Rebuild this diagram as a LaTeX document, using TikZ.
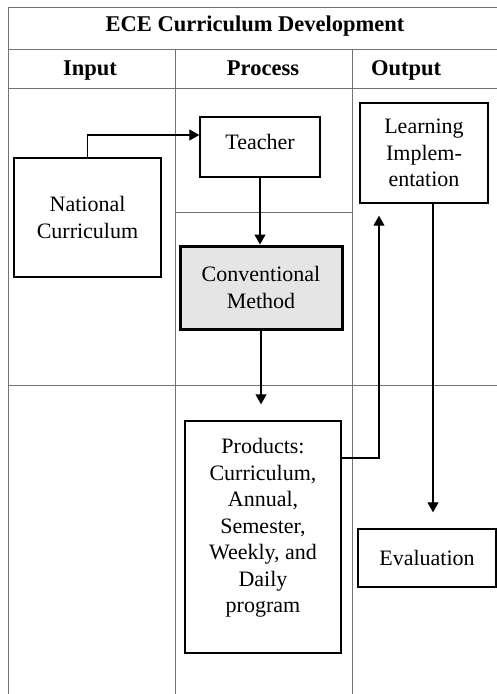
\documentclass[tikz,border=0pt]{standalone}
\usepackage{fontspec}
\setmainfont{Liberation Serif}
\usetikzlibrary{arrows.meta,calc}
\begin{document}
\begin{tikzpicture}[x=1pt,y=-1pt,
  grid/.style={draw=black!55,line width=0.9pt},
  box/.style={draw=black,line width=1.4pt,align=center,inner sep=0pt,
    font=\fontsize{22}{26.5}\selectfont},
  hdr/.style={font=\fontsize{22.5}{26}\selectfont\bfseries,inner sep=0pt,anchor=base},
  arr/.style={draw=black,line width=1.1pt,-{Triangle[length=10pt,width=11pt]}},
  ln/.style={draw=black,line width=1.1pt}]
\useasboundingbox (0,0) rectangle (497,694);
\fill[white] (0,0) rectangle (497,694);
% table grid
\draw[grid] (8,7) -- (497,7);
\draw[grid] (8,49) -- (497,49);
\draw[grid] (8,88) -- (497,88);
\draw[grid] (8,385) -- (497,385);
\draw[grid] (175,212) -- (352,212);
\draw[grid] (8,7) -- (8,694);
\draw[grid] (175,49) -- (175,694);
\draw[grid] (352,49) -- (352,694);
% headers
\node[hdr] (title) at (255,31) {ECE Curriculum Development};
\node[hdr] (hin) at (90,75) {Input};
\node[hdr] (hpr) at (263,75) {Process};
\node[hdr,anchor=base west] (hout) at (371,75) {Output};
% boxes
\node[box,minimum width=120pt,minimum height=60pt] (teacher) at (260,147) {Teacher\\[-16.5pt]\mbox{}};
\node[box,minimum width=147pt,minimum height=119pt] (nc) at (87.5,217.5) {National\\Curriculum};
\node[box,minimum width=128pt,minimum height=100pt] (li) at (424,153) {Learning\\Implem-\\entation};
\node[box,fill=black!10,line width=3pt,minimum width=162pt,minimum height=83pt] (cm) at (261,287.5) {Conventional\\Method};
\node[box,minimum width=156pt,minimum height=232pt] (prod) at (263,537) {Products:\\Curriculum,\\Annual,\\Semester,\\Weekly, and\\Daily\\program\\[-4pt]\mbox{}};
\node[box,minimum width=138pt,minimum height=58pt] (eval) at (427,558) {Evaluation};
% connectors
\coordinate (upx) at (379,0);
\draw[arr] (nc.north) |- ([yshift=12pt]teacher.west);
\draw[arr] (teacher.south) -- (teacher.south |- cm.north);
\draw[arr,shorten >=16pt] (cm.south) -- (cm.south |- prod.north);
\draw[arr,shorten >=12pt] ([yshift=79pt]prod.east) -| (upx |- li.south);
\draw[arr,shorten >=16pt] ([xshift=9pt]li.south) -- ([xshift=9pt]li.south |- eval.north);
\end{tikzpicture}
\end{document}
